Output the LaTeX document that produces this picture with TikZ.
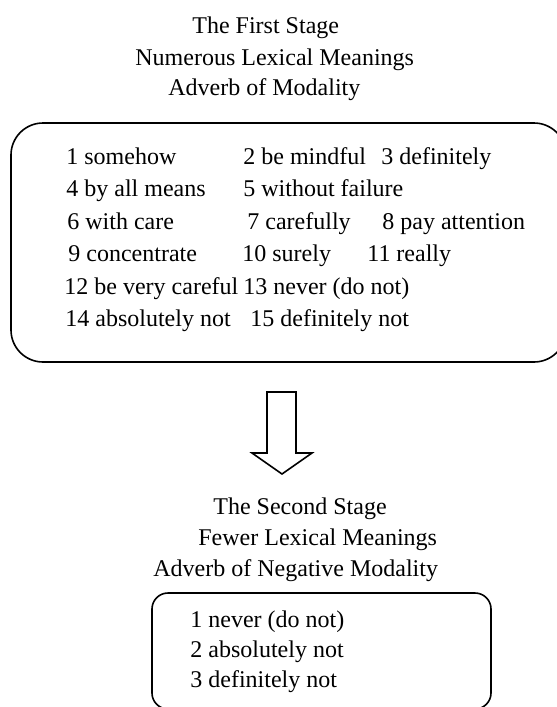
\documentclass[tikz,border=0pt]{standalone}
\usepackage{fontspec}
\setmainfont{Liberation Serif}

\begin{document}
\begin{tikzpicture}[x=0.5pt,y=-0.5pt,
    txt/.style={anchor=base west,inner sep=0pt,font=\fontsize{12}{14}\selectfont},
    panel/.style={draw,line width=0.8pt,rounded corners=16pt},
    smallpanel/.style={draw,line width=0.8pt,rounded corners=8pt},
    blockarrow/.style={draw,line width=0.8pt,line join=miter}]
    \useasboundingbox (0,0) rectangle (557,707);
    \clip (0,0) rectangle (557,707);

    % first stage
    \node[txt] (head1) at (192,33) {The First Stage};
    \node[txt] (head2) at (135,65) {Numerous Lexical Meanings};
    \node[txt] (head3) at (168,95) {Adverb of Modality};
    \draw[panel] (11,123) rectangle (566,362);

    \node[txt] (m1) at (66,164) {1 somehow};
    \node[txt] (m2) at (243,164) {2 be mindful};
    \node[txt] (m3) at (381,164) {3 definitely};
    \node[txt] (m4) at (66,196.5) {4 by all means};
    \node[txt] (m5) at (243,196.5) {5 without failure};
    \node[txt] (m6) at (67,229) {6 with care};
    \node[txt] (m7) at (247,229) {7 carefully};
    \node[txt] (m8) at (382,229) {8 pay attention};
    \node[txt] (m9) at (68,261.5) {9 concentrate};
    \node[txt] (m10) at (242,261.5) {10 surely};
    \node[txt] (m11) at (367,261.5) {11 really};
    \node[txt] (m12) at (64,294) {12 be very careful};
    \node[txt] (m13) at (243,294) {13 never (do not)};
    \node[txt] (m14) at (65,326.5) {14 absolutely not};
    \node[txt] (m15) at (250,326.5) {15 definitely not};

    % arrow down
    \draw[blockarrow] (267,392) -- (296,392) -- (296,453) -- (312,453)
        -- (282,474) -- (252,453) -- (267,453) -- cycle;

    % second stage
    \node[txt] (tail1) at (213,514) {The Second Stage};
    \node[txt] (tail2) at (198,545) {Fewer Lexical Meanings};
    \node[txt] (tail3) at (153,576) {Adverb of Negative Modality};
    \draw[smallpanel] (152,593) rectangle (491,709);

    \node[txt] (n1) at (190,627) {1 never (do not)};
    \node[txt] (n2) at (190,657) {2 absolutely not};
    \node[txt] (n3) at (190,687) {3 definitely not};
\end{tikzpicture}
\end{document}
